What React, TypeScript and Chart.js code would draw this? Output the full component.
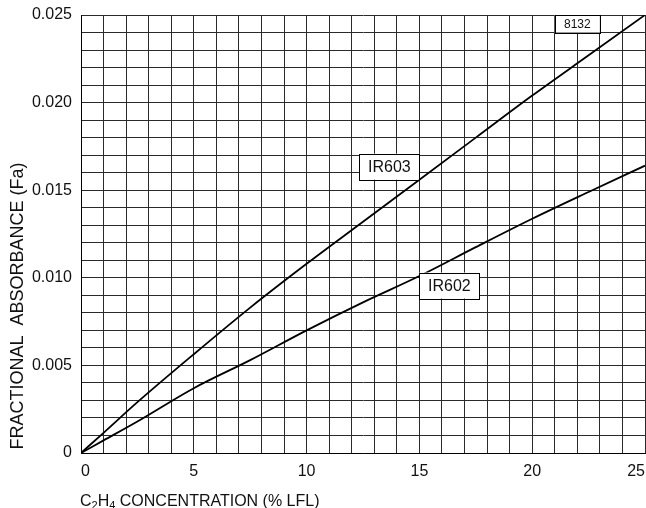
import React, { useEffect, useRef } from "react";
import { Chart, registerables } from "chart.js";

Chart.register(...registerables);

const concentration = [0, 1, 2.5, 5, 7.5, 10, 12.5, 15, 17.5, 20, 22.5, 25];
const ir603Values = [0, 0.00115, 0.0029, 0.00564, 0.0083, 0.0108, 0.0132, 0.0156, 0.018, 0.0204, 0.0227, 0.025];
const ir602Values = [0, 0.00072, 0.0018, 0.0037, 0.0053, 0.007, 0.0086, 0.0101, 0.01175, 0.01337, 0.0149, 0.0164];
const seriesNames = ["IR603", "IR602"];
const xTickLabels = ["0", "5", "10", "15", "20", "25"];
const yTickLabels = ["0", "0.005", "0.010", "0.015", "0.020", "0.025"];
const figureId = "8132";
const xTitleParts = ["C", "2", "H", "4", " CONCENTRATION (% LFL)"];
const yTitle = "FRACTIONAL  ABSORBANCE (Fa)";

const FONT = "'Liberation Sans', Arial, sans-serif";

const annotationPlugin = {
  id: "annotations",
  afterDatasetsDraw(chart: any) {
    const ctx = chart.ctx;
    const xs = chart.scales.x;
    const ys = chart.scales.y;
    ctx.save();
    const drawBox = (x: number, y: number, w: number, h: number, text: string, size: number) => {
      ctx.fillStyle = "#fff";
      ctx.fillRect(x, y, w, h);
      ctx.strokeStyle = "#000";
      ctx.lineWidth = 1;
      ctx.strokeRect(Math.round(x) + 0.5, Math.round(y) + 0.5, Math.round(w), Math.round(h));
      ctx.fillStyle = "#111";
      ctx.font = `${size}px ${FONT}`;
      ctx.textAlign = "center";
      ctx.textBaseline = "middle";
      ctx.fillText(text, x + w / 2, y + h / 2 + 1);
    };
    const p1x = xs.getPixelForValue(15);
    const p1y = ys.getPixelForValue(0.0156);
    drawBox(p1x - 60, p1y - 26, 60, 26, seriesNames[0], 16);
    const p2x = xs.getPixelForValue(15);
    const p2y = ys.getPixelForValue(0.0103);
    drawBox(p2x, p2y, 60, 26, seriesNames[1], 16);
    const bx1 = xs.getPixelForValue(21);
    const bx2 = xs.getPixelForValue(23);
    const by1 = ys.getPixelForValue(0.025);
    const by2 = ys.getPixelForValue(0.024);
    drawBox(bx1, by1, bx2 - bx1, by2 - by1, figureId, 12);
    ctx.restore();
  },
  afterDraw(chart: any) {
    const ctx = chart.ctx;
    ctx.save();
    ctx.fillStyle = "#111";
    ctx.translate(18, 306);
    ctx.rotate(-Math.PI / 2);
    ctx.font = `18px ${FONT}`;
    ctx.textAlign = "center";
    ctx.textBaseline = "middle";
    ctx.fillText(yTitle, 0, 0);
    ctx.restore();

    ctx.save();
    ctx.fillStyle = "#111";
    ctx.textBaseline = "alphabetic";
    ctx.textAlign = "left";
    let x = 80;
    const base = 506;
    xTitleParts.forEach((part, i) => {
      const sub = i === 1 || i === 3;
      ctx.font = sub ? `11px ${FONT}` : `16px ${FONT}`;
      ctx.fillText(part, x, sub ? base + 3 : base);
      x += ctx.measureText(part).width;
    });
    ctx.restore();
  },
};

export default function App() {
  const ref = useRef<HTMLCanvasElement | null>(null);
  useEffect(() => {
    if (!ref.current) return;
    const chart = new Chart(ref.current, {
      type: "line",
      data: {
        datasets: [
          {
            label: seriesNames[0],
            data: concentration.map((c, i) => ({ x: c, y: ir603Values[i] })),
            borderColor: "#000",
            borderWidth: 1.8,
            pointRadius: 0,
            cubicInterpolationMode: "monotone",
            fill: false,
          },
          {
            label: seriesNames[1],
            data: concentration.map((c, i) => ({ x: c, y: ir602Values[i] })),
            borderColor: "#000",
            borderWidth: 1.8,
            pointRadius: 0,
            cubicInterpolationMode: "monotone",
            fill: false,
          },
        ],
      },
      options: {
        animation: false,
        responsive: false,
        devicePixelRatio: 1,
        layout: { padding: { left: 0, right: 1, top: 15, bottom: 0 } },
        plugins: { legend: { display: false }, tooltip: { enabled: false }, title: { display: false } },
        scales: {
          x: {
            type: "linear",
            min: 0,
            max: 25,
            afterFit: (s: any) => {
              s.height = 55;
              s.paddingLeft = 0;
              s.paddingRight = 0;
            },
            grid: { color: "#2a2a2a", lineWidth: 1, drawTicks: false },
            border: { color: "#000", width: 1 },
            ticks: {
              stepSize: 1,
              autoSkip: false,
              maxRotation: 0,
              align: "inner",
              padding: 9,
              color: "#111",
              font: { family: FONT, size: 16 },
              callback: (v: any) => {
                const n = Math.round(Number(v));
                return n % 5 === 0 ? xTickLabels[n / 5] : "";
              },
            },
          },
          y: {
            type: "linear",
            min: 0,
            max: 0.025,
            afterFit: (s: any) => {
              s.width = 81;
              s.paddingTop = 0;
              s.paddingBottom = 0;
            },
            grid: { color: "#2a2a2a", lineWidth: 1, drawTicks: false },
            border: { color: "#000", width: 1 },
            ticks: {
              stepSize: 0.001,
              autoSkip: false,
              padding: 9,
              color: "#111",
              font: { family: FONT, size: 16 },
              callback: (v: any) => {
                const n = Math.round(Number(v) * 1000);
                return n % 5 === 0 ? yTickLabels[n / 5] : "";
              },
            },
          },
        },
      },
      plugins: [annotationPlugin],
    } as any);
    return () => chart.destroy();
  }, []);
  return (
    <div style={{ position: "fixed", left: 0, top: 0, width: 646, height: 508, background: "#fff" }}>
      <canvas ref={ref} width={646} height={508} />
    </div>
  );
}
